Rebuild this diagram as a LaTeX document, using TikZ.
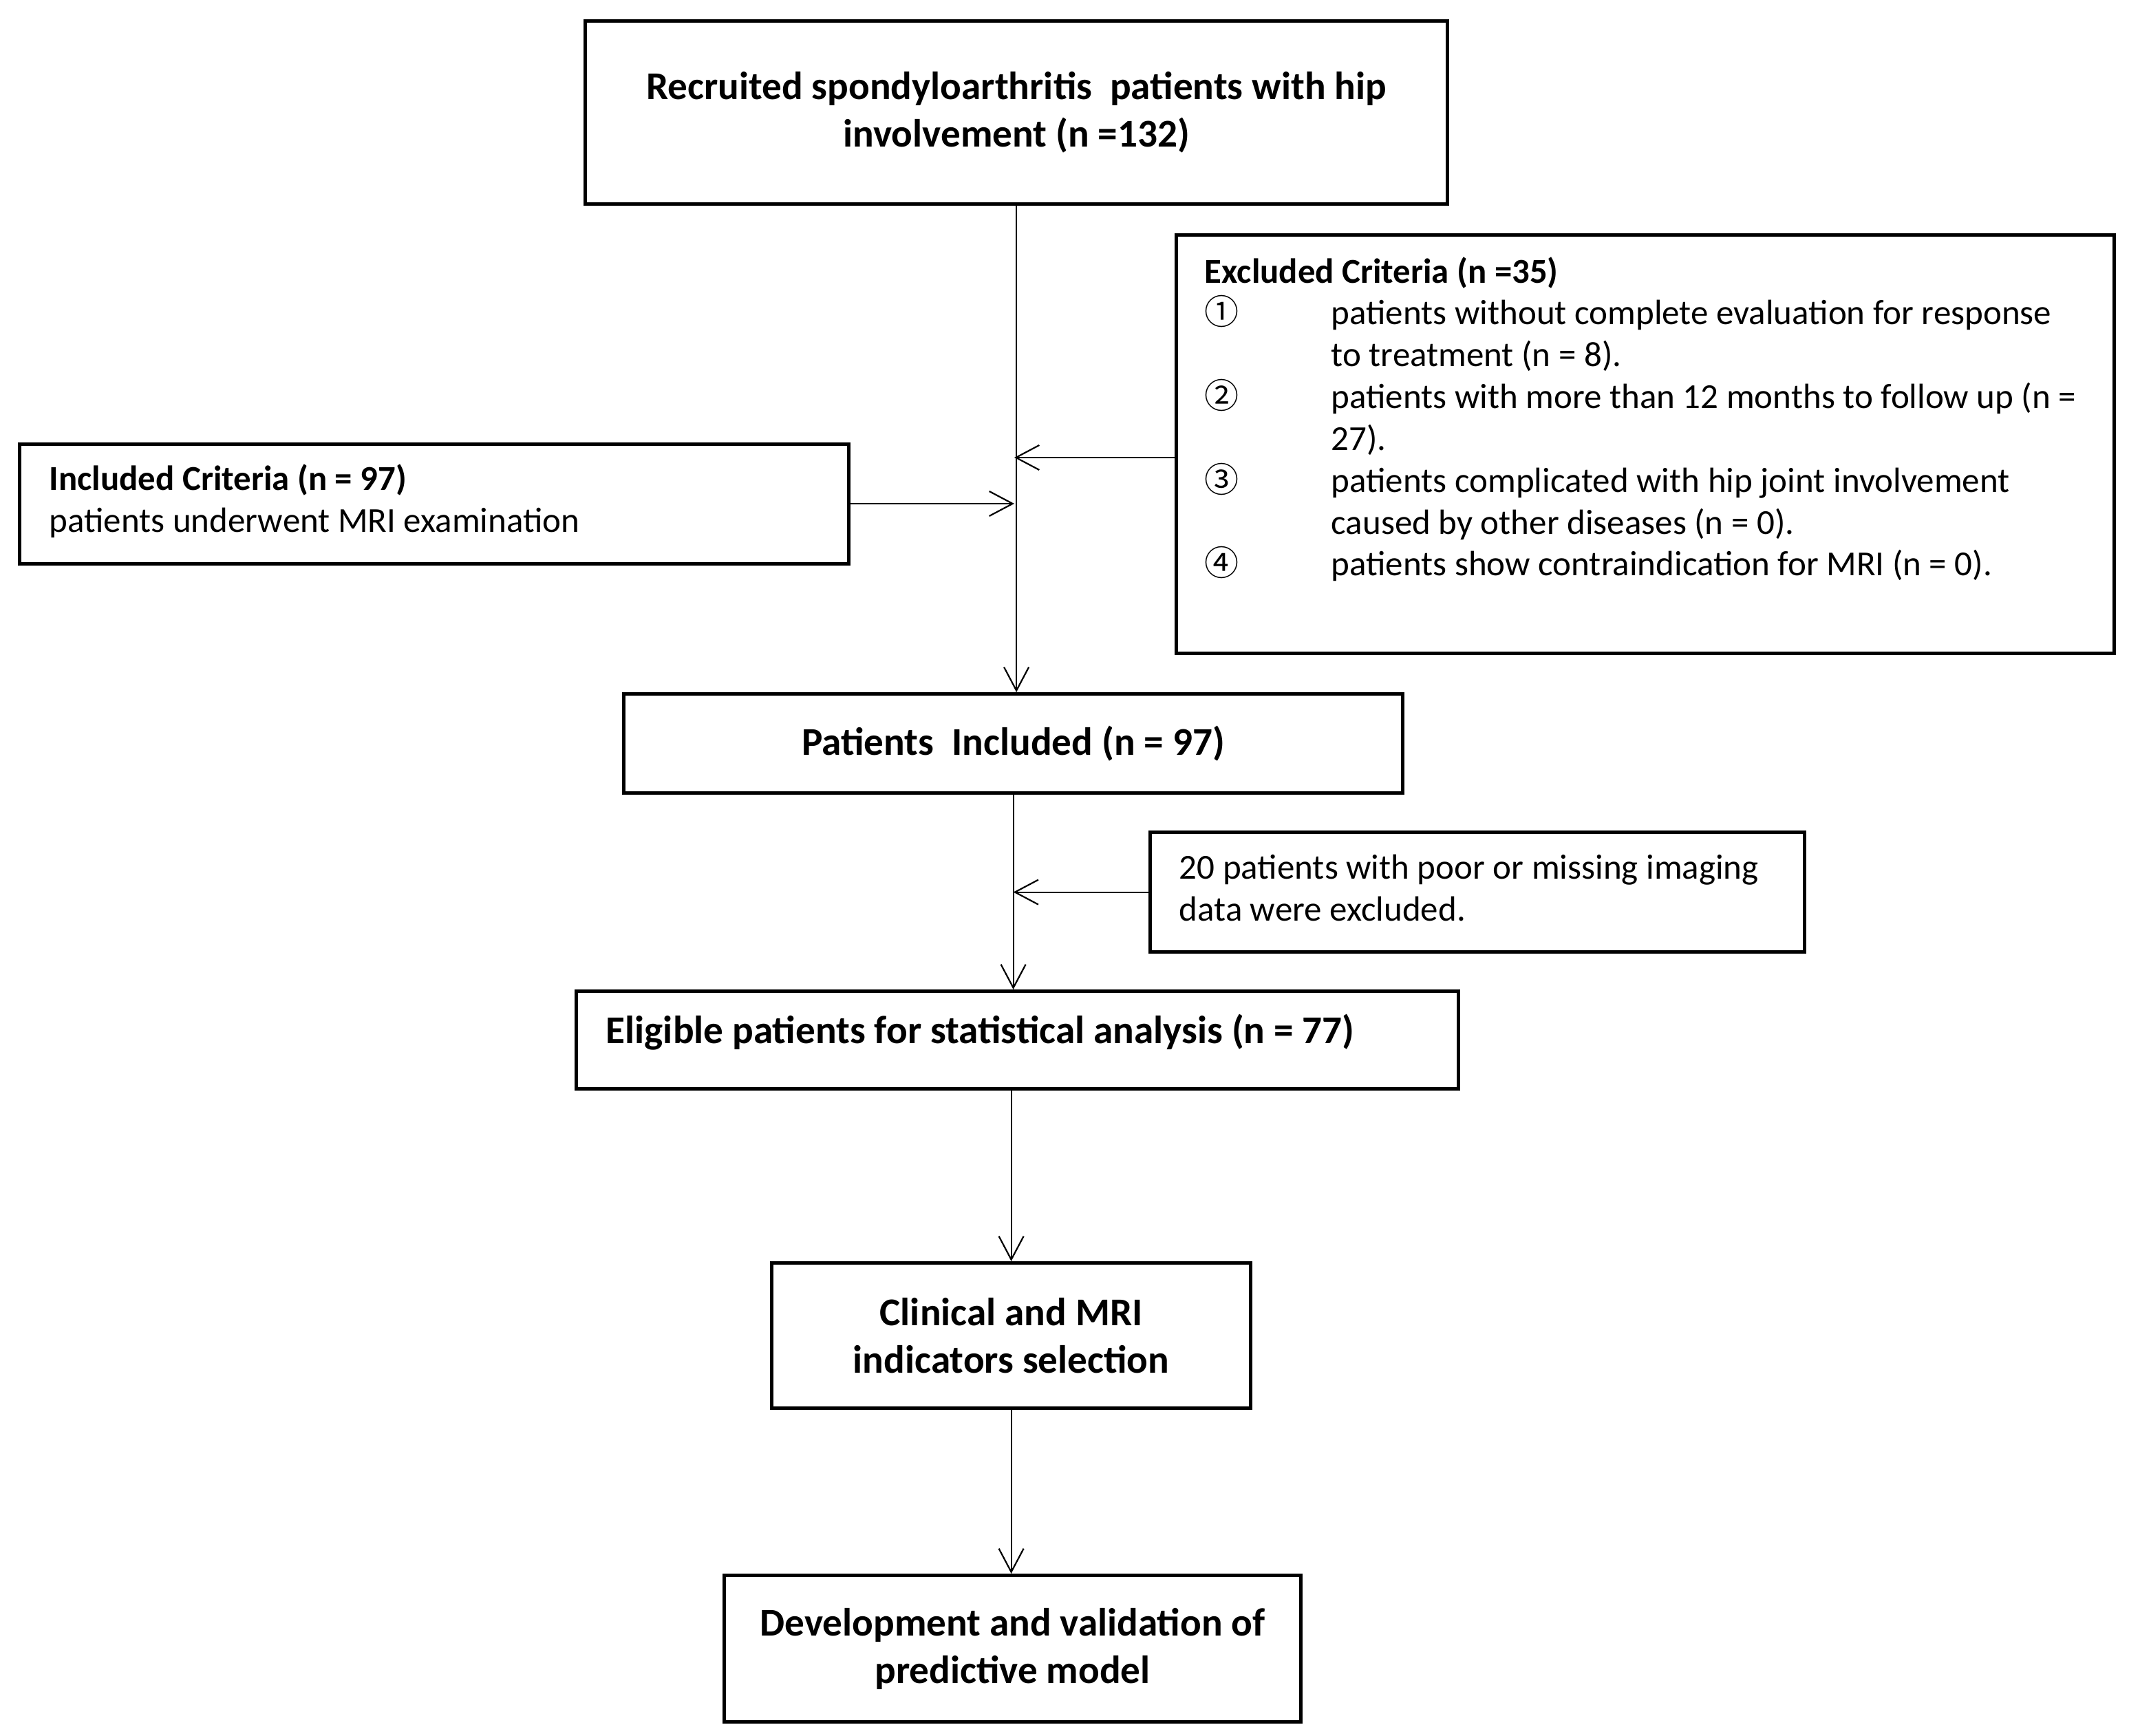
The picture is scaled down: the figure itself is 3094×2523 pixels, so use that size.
\documentclass[tikz,border=0pt]{standalone}
\usepackage{fontspec}
\setmainfont{Carlito}
\newfontfamily\cjk{Noto Sans CJK SC}
\usetikzlibrary{arrows.meta}
\begin{document}
\begin{tikzpicture}[x=0.25pt,y=-0.25pt,
 box/.style={draw, line width=1.3pt, inner sep=0pt, anchor=north west, align=center, font=\bfseries\fontsize{14.3}{17.25}\selectfont},
 txt/.style={anchor=base west, inner sep=0pt, font=\fontsize{12.75}{15}\selectfont},
 btxt/.style={anchor=base west, inner sep=0pt, font=\bfseries\fontsize{12.7}{15}\selectfont},
 num/.style={anchor=base west, inner sep=0pt, font=\cjk\fontsize{12.5}{15}\selectfont},
 arr/.style={line width=0.55pt, -{Straight Barb[length=8.5pt,width=9pt,line width=0.55pt]}}]
\useasboundingbox (0,0) rectangle (3094,2523);

% boxes
\node[box, minimum width=313.25pt, minimum height=66.5pt] (top) at (848,28)
  {Recruited spondyloarthritis\ \ patients with hip\\involvement (n =132)};
\node[box, minimum width=340.75pt, minimum height=152pt] (exc) at (1707,339) {};
\node[box, minimum width=301.25pt, minimum height=43.5pt] (inc) at (26,643) {};
\node[box, minimum width=283pt, minimum height=36pt] (pat) at (904,1006)
  {Patients\ \ Included (n = 97)};
\node[box, minimum width=237.75pt, minimum height=43.5pt] (twenty) at (1669,1207) {};
\node[box, minimum width=320.5pt, minimum height=35.5pt] (eli) at (835,1438) {};
\node[box, minimum width=174pt, minimum height=52.75pt] (cli) at (1119,1833)
  {Clinical and MRI\\indicators selection};
\node[box, minimum width=209.5pt, minimum height=53.25pt] (dev) at (1050,2287)
  {Development and validation of\\predictive model};

% texts of the excluded box
\node[btxt] (extitle) at (1750,412) {Excluded Criteria (n =35)};
\node[num] (n1) at (1750,472) {①};
\node[txt] (e1a) at (1934,472) {patients without complete evaluation for response};
\node[txt] (e1b) at (1934,533) {to treatment (n = 8).};
\node[num] (n2) at (1750,594) {②};
\node[txt] (e2a) at (1934,594) {patients with more than 12 months to follow up (n =};
\node[txt] (e2b) at (1934,655) {27).};
\node[num] (n3) at (1750,716) {③};
\node[txt] (e3a) at (1934,716) {patients complicated\ with hip joint involvement};
\node[txt] (e3b) at (1934,777) {caused by other diseases (n = 0).};
\node[num] (n4) at (1750,837) {④};
\node[txt] (e4a) at (1934,837) {patients show contraindication\ for MRI (n = 0).};

% texts of the included box
\node[btxt] (intitle) at (71,713) {Included\ Criteria (n = 97)};
\node[txt] (inline) at (71,774) {patients underwent MRI examination};

% texts of the 20 patients box
\node[txt] (t1) at (1713,1278) {20 patients with poor or missing imaging};
\node[txt] (t2) at (1713,1338) {data were excluded.};

% eligible text
\node[anchor=west, inner sep=0pt, font=\bfseries\fontsize{14.3}{17.25}\selectfont] (elitext) at (880,1500)
  {Eligible patients for statistical analysis (n = 77)};

% connectors
\coordinate (ja) at (1474,665);
\coordinate (jb) at (1474,732);
\draw[arr] (top.south) -- (top.south |- pat.north);
\draw[arr] (ja -| exc.west) -- (ja);
\draw[arr] (jb -| inc.east) -- (jb);
\draw[arr] (pat.south) -- (pat.south |- eli.north);
\draw[arr] (twenty.west) -- (twenty.west -| pat.south);
\draw[arr] (eli.south -| cli.north) -- (cli.north);
\draw[arr] (cli.south) -- (cli.south |- dev.north);
\end{tikzpicture}
\end{document}
